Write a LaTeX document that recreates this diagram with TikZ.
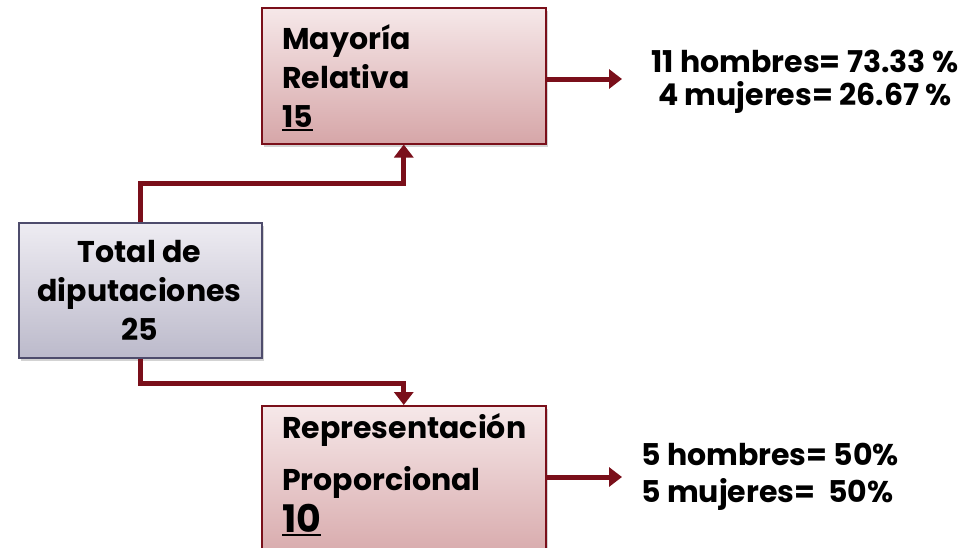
\documentclass[tikz,border=0pt]{standalone}
\usepackage{fontspec}
\setmainfont{Poppins}
\usetikzlibrary{arrows.meta,shadows,calc}
\definecolor{wine}{RGB}{122,15,26}
\definecolor{pinktop}{RGB}{246,232,233}
\definecolor{pinkbot}{RGB}{214,166,168}
\definecolor{greytop}{RGB}{238,236,242}
\definecolor{greybot}{RGB}{188,186,203}
\definecolor{slate}{RGB}{78,76,108}
\newcommand{\thickul}[1]{\setbox0\hbox{#1}\leavevmode\rlap{\raisebox{-4pt}{\rule{\wd0}{2.5pt}}}\box0}
\tikzset{
  redbox/.style={draw=wine, line width=1.5pt, top color=pinktop, bottom color=pinkbot,
    drop shadow={shadow xshift=2pt, shadow yshift=-3pt, opacity=0.35}, inner sep=0pt},
  greybox/.style={draw=slate, line width=1.5pt, top color=greytop, bottom color=greybot,
    drop shadow={shadow xshift=2pt, shadow yshift=-3pt, opacity=0.35}, inner sep=0pt},
  lbl/.style={font=\fontsize{30}{39}\selectfont\bfseries, inner sep=0pt},
  conn/.style={draw=wine, line width=5pt, -{Triangle[length=13pt,width=19pt]}},
}
\begin{document}
\begin{tikzpicture}[x=1pt,y=-1pt]
\useasboundingbox (0,0) rectangle (975,547);
% boxes
\node[redbox, minimum width=284pt, minimum height=136pt, anchor=north west] (mayoria) at (261,7) {};
\node[greybox, minimum width=243pt, minimum height=135pt, anchor=north west] (total) at (18,222) {};
\node[redbox, minimum width=284pt, minimum height=160pt, anchor=north west] (rp) at (261,405) {};
% box texts
\node[lbl, anchor=base west, align=left] (mtext) at (282,127) {Mayoría\\Relativa\\\thickul{15}};
\node[lbl, anchor=base, align=center] (ttext) at (139.5,340) {Total de\\diputaciones\\25};
\node[lbl, anchor=base west, align=left] (rtext) at (282,532) {Representación\\[13pt]Proporcional\\[3pt]{\fontsize{38}{39}\selectfont\thickul{10}}};
% results
\node[lbl, anchor=base, align=center] (res1) at (805,105) {11 hombres= 73.33 \%\\[-6pt]4 mujeres= 26.67 \%};
\node[lbl, anchor=base west, align=left] (res2) at (641,502) {5 hombres= 50\%\\[-2pt]5 mujeres=\ \ 50\%};
% connectors
\coordinate (e1) at (622,79);
\coordinate (e2) at (622,477);
\draw[conn] (total.north) -- ++(0,-39) -| (mayoria.south);
\draw[conn] (total.south) -- ++(0,25) -| (rp.north);
\draw[conn] (mayoria.east |- e1) -- (e1);
\draw[conn] (rp.east |- e2) -- (e2);
\end{tikzpicture}
\end{document}
